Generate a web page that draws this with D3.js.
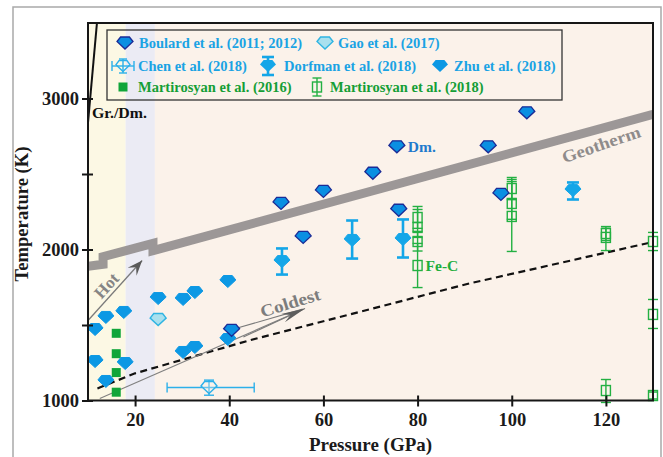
<!DOCTYPE html>
<html>
<head>
<meta charset="utf-8">
<script src="https://cdn.jsdelivr.net/npm/d3@7/dist/d3.min.js"></script>
<style>
  html, body { margin: 0; padding: 0; background: #fff; }
  svg { display: block; }
  text { font-family: "Liberation Serif", "Times New Roman", serif; font-weight: bold; }
</style>
</head>
<body>
<svg id="chart" width="663" height="457"></svg>
<script>
// ---- data (pressure in GPa, temperature in K) ----
const xTicks = [20, 40, 60, 80, 100, 120];
const yTicks = [1000, 1500, 2000, 2500, 3000];
const yTickLabels = [1000, 2000, 3000];

const boulard = [[40.5,1465],[51,2305],[55.7,2080],[60,2385],[70.5,2505],[75.6,2680],[76,2260],[95,2680],[97.7,2365],[103.2,2905]];
const gao = [[24.9,1536]];
const zhu = [[11.5,1470],[13.8,1550],[17.6,1583],[24.9,1675],[30.2,1669],[32.7,1715],[39.7,1788],
             [11.5,1258],[13.8,1126],[17.9,1245],[30.2,1318],[32.7,1351],[39.7,1404]];
const chen = [{p:35.7, t:1086, pLo:26.8, pHi:45.3, tLo:1035, tHi:1135}];
const dorfman = [{p:51.2,t:1920,lo:1834,hi:2007},{p:66.1,t:2060,lo:1940,hi:2192},
                 {p:76.9,t:2066,lo:1947,hi:2199},{p:113,t:2390,lo:2331,hi:2444}];
const mart2016 = [[16,1445],[16,1310],[16,1185],[16,1055]];
const mart2018 = [
  {p:80,t:2212,lo:2140,hi:2285},{p:80,t:2146,lo:2080,hi:2265},{p:80,t:2053,lo:1990,hi:2120},{p:80,t:1894,lo:1748,hi:2040},
  {p:100,t:2404,lo:2330,hi:2477},{p:100,t:2305,lo:2200,hi:2464},{p:100,t:2219,lo:1987,hi:2450},
  {p:120,t:2106,lo:2060,hi:2152},{p:120,t:2080,lo:1993,hi:2140},{p:120,t:1066,lo:987,hi:1139},
  {p:130,t:2053,lo:1993,hi:2113},{p:130,t:1570,lo:1477,hi:1669},{p:130,t:1033,lo:1010,hi:1056}
];

// phase regions and reference curves
const bands = [{p0:10,p1:18,fill:"#fcf8e4"},{p0:18,p1:24.2,fill:"#ebebf4"},{p0:24.2,p1:130,fill:"#fbf2ea"}];
const geotherm = [[10,1888],[13.2,1902],[13.2,1952],[23.8,2040],[23.8,1992],[130,2895]];
const graphiteDiamond = [[10,2840],[11.9,3500]];
const fecMelting = [[12,1080],[20,1180],[44.5,1400],[91,1775],[130,2050]];
const hotArrow = [[10,1530],[21.5,1927]];
const coldArrow = [[12.5,1013],[56.1,1609]];
const coldFan = [[[39.5,1460],[55.6,1605]],[[43,1420],[55.6,1603]]];

// ---- layout ----
const svg = d3.select("#chart");
const x = d3.scaleLinear().domain([10,130]).range([88,653]);
const y = d3.scaleLinear().domain([1000,3500]).range([400.5,23]);

// outer frame
svg.append("rect").attr("x",13).attr("y",7).attr("width",648).attr("height",462)
  .attr("fill","#fff").attr("stroke","#a9a9a9").attr("stroke-width",1.5);

svg.append("defs").append("clipPath").attr("id","plotClip")
  .append("rect").attr("x",x(10)).attr("y",y(3500)).attr("width",x(130)-x(10)).attr("height",y(1000)-y(3500));

// background bands
svg.append("g").selectAll("rect").data(bands).join("rect")
  .attr("x",d=>x(d.p0)).attr("width",d=>x(d.p1)-x(d.p0))
  .attr("y",y(3500)).attr("height",y(1000)-y(3500)).attr("fill",d=>d.fill);

const line = d3.line().x(d=>x(d[0])).y(d=>y(d[1]));
const plot = svg.append("g").attr("clip-path","url(#plotClip)");

// geotherm
plot.append("path").attr("d",line(geotherm)).attr("fill","none")
  .attr("stroke","#948f8f").attr("stroke-opacity",0.92).attr("stroke-width",9).attr("stroke-linejoin","miter");

// graphite / diamond boundary
plot.append("path").attr("d",line(graphiteDiamond)).attr("fill","none").attr("stroke","#111").attr("stroke-width",2);

// Fe-C melting (dashed)
plot.append("path").attr("d",line(fecMelting)).attr("fill","none").attr("stroke","#111")
  .attr("stroke-width",2.2).attr("stroke-dasharray","7,4.5");

// arrows
function arrowHead(seg, len, half, notch, color) {
  const x1 = x(seg[0][0]), y1 = y(seg[0][1]), x2 = x(seg[1][0]), y2 = y(seg[1][1]);
  const a = Math.atan2(y2-y1, x2-x1), c = Math.cos(a), s = Math.sin(a);
  const pt = (u,v)=>[x2 + u*c - v*s, y2 + u*s + v*c];
  const pts = [pt(0,0), pt(-len,-half), pt(-notch,0), pt(-len,half)];
  plot.append("path").attr("d","M"+pts.map(p=>p.join(",")).join("L")+"Z").attr("fill",color);
}
plot.append("path").attr("d",line(hotArrow)).attr("stroke","#7a7a7a").attr("stroke-width",1.3).attr("fill","none");
arrowHead(hotArrow, 15, 6, 9, "#5a5a5a");
plot.append("path").attr("d",line(coldArrow)).attr("stroke","#808080").attr("stroke-width",1.1).attr("fill","none");
coldFan.forEach(seg=>plot.append("path").attr("d",line(seg)).attr("stroke","#7a7a7a").attr("stroke-width",1.1).attr("fill","none"));
arrowHead(coldArrow, 24, 4.5, 16, "#5e5e5e");

// annotation texts
function rotText(px, py, angle, str, size, color, len) {
  const t = svg.append("text").attr("transform",`translate(${px},${py}) rotate(${angle})`)
    .attr("text-anchor","middle").attr("font-size",size).attr("fill",color).text(str);
  if (len) t.attr("textLength",len).attr("lengthAdjust","spacingAndGlyphs");
}
{
  const a = Math.atan2(y(hotArrow[1][1])-y(hotArrow[0][1]), x(hotArrow[1][0])-x(hotArrow[0][0]))*180/Math.PI;
  rotText(x(14.2)+3, y(1735), a, "Hot", 17, "#858585");
}
rotText(x(53.3), y(1610), -17, "Coldest", 17, "#7d7d7d", 62);
rotText(x(119.4), y(2660), -19, "Geotherm", 17, "#8f8b8b", 82);

svg.append("text").attr("x",92).attr("y",118).attr("font-size",14.5).attr("fill","#111")
  .attr("textLength",55).attr("lengthAdjust","spacingAndGlyphs").text("Gr./Dm.");

// ---- markers ----
function gem(w, h) {
  const hw = w/2, hh = h/2;
  return `M${-hw*0.55},${-hh}L${hw*0.55},${-hh}L${hw},${-hh*0.25}L0,${hh}L${-hw},${-hh*0.25}Z`;
}
const gemPath = gem(16, 12);

const marks = svg.append("g");

// Martirosyan 2018 (open squares with error bars)
const m18 = marks.append("g").attr("stroke","#23b042").attr("fill","none").attr("stroke-width",1.4);
mart2018.forEach(d=>{
  const cx = x(d.p);
  m18.append("line").attr("x1",cx).attr("x2",cx).attr("y1",y(d.lo)).attr("y2",y(d.hi));
  m18.append("line").attr("x1",cx-5).attr("x2",cx+5).attr("y1",y(d.lo)).attr("y2",y(d.lo));
  m18.append("line").attr("x1",cx-5).attr("x2",cx+5).attr("y1",y(d.hi)).attr("y2",y(d.hi));
  m18.append("rect").attr("x",cx-4.5).attr("y",y(d.t)-5).attr("width",9).attr("height",10);
});

// Martirosyan 2016 (filled squares)
marks.append("g").selectAll("rect").data(mart2016).join("rect")
  .attr("x",d=>x(d[0])-4.5).attr("y",d=>y(d[1])-4.5).attr("width",9).attr("height",9).attr("fill","#10a53a");

// Zhu 2018
marks.append("g").selectAll("path").data(zhu).join("path")
  .attr("d",gemPath).attr("transform",d=>`translate(${x(d[0])},${y(d[1])})`)
  .attr("fill","#0c98e4").attr("stroke","#0c98e4").attr("stroke-width",1);

// Gao 2017
marks.append("g").selectAll("path").data(gao).join("path")
  .attr("d",gemPath).attr("transform",d=>`translate(${x(d[0])},${y(d[1])})`)
  .attr("fill","#a9e0ee").attr("stroke","#2fb4e2").attr("stroke-width",1.4);

// Boulard 2011; 2012
marks.append("g").selectAll("path").data(boulard).join("path")
  .attr("d",gemPath).attr("transform",d=>`translate(${x(d[0])},${y(d[1])})`)
  .attr("fill","#0a8fe2").attr("stroke","#1b2b96").attr("stroke-width",1.3);

// Dorfman 2018 (filled gems with error bars)
const dg = marks.append("g").attr("stroke","#14a6e8").attr("stroke-width",2.6);
dorfman.forEach(d=>{
  const cx = x(d.p);
  dg.append("line").attr("x1",cx).attr("x2",cx).attr("y1",y(d.lo)).attr("y2",y(d.hi));
  dg.append("line").attr("x1",cx-6).attr("x2",cx+6).attr("y1",y(d.lo)).attr("y2",y(d.lo));
  dg.append("line").attr("x1",cx-6).attr("x2",cx+6).attr("y1",y(d.hi)).attr("y2",y(d.hi));
  dg.append("path").attr("d",gemPath).attr("transform",`translate(${cx},${y(d.t)})`)
    .attr("fill","#14a6e8").attr("stroke-width",1);
});

// Chen 2018 (open gem with both error bars)
const cg = marks.append("g").attr("stroke","#2cb0ea").attr("stroke-width",1.4).attr("fill","none");
chen.forEach(d=>{
  const cx = x(d.p), cy = y(d.t);
  cg.append("line").attr("x1",x(d.pLo)).attr("x2",x(d.pHi)).attr("y1",cy).attr("y2",cy);
  cg.append("line").attr("x1",x(d.pLo)).attr("x2",x(d.pLo)).attr("y1",cy-5).attr("y2",cy+5);
  cg.append("line").attr("x1",x(d.pHi)).attr("x2",x(d.pHi)).attr("y1",cy-5).attr("y2",cy+5);
  cg.append("line").attr("x1",cx).attr("x2",cx).attr("y1",y(d.tLo)).attr("y2",y(d.tHi));
  cg.append("line").attr("x1",cx-5).attr("x2",cx+5).attr("y1",y(d.tLo)).attr("y2",y(d.tLo));
  cg.append("line").attr("x1",cx-5).attr("x2",cx+5).attr("y1",y(d.tHi)).attr("y2",y(d.tHi));
  cg.append("path").attr("d",gemPath).attr("transform",`translate(${cx},${cy})`).attr("fill","#fbf2ea").attr("fill-opacity",0.3);
});

// point labels
svg.append("text").attr("x",x(75.6)+11).attr("y",y(2680)+5).attr("font-size",15.5).attr("fill","#1f7acd").text("Dm.");
svg.append("text").attr("x",x(80)+8).attr("y",y(1894)+5).attr("font-size",15.5).attr("fill","#1fae3c").text("Fe-C");

// ---- axes ----
svg.append("rect").attr("x",x(10)).attr("y",y(3500)).attr("width",x(130)-x(10)).attr("height",y(1000)-y(3500))
  .attr("fill","none").attr("stroke","#161616").attr("stroke-width",2);

const xAxis = svg.append("g").attr("transform",`translate(0,${y(1000)})`)
  .call(d3.axisBottom(x).tickValues(xTicks).tickSize(0).tickPadding(12));
xAxis.select(".domain").remove();
xAxis.selectAll(".tick").append("line").attr("y1",-5).attr("y2",6).attr("stroke","#161616").attr("stroke-width",2);
xAxis.selectAll("text").attr("font-size",18.5).attr("fill","#1a1a1a")
  .attr("font-family","Liberation Serif, serif").attr("font-weight","bold");

const yAxis = svg.append("g").attr("transform",`translate(${x(10)},0)`)
  .call(d3.axisLeft(y).tickValues(yTicks).tickSize(0).tickPadding(9)
    .tickFormat(d=>yTickLabels.includes(d)?d:""));
yAxis.select(".domain").remove();
yAxis.selectAll(".tick").append("line").attr("x1",-6).attr("x2",5).attr("stroke","#161616").attr("stroke-width",2);
yAxis.selectAll("text").attr("font-size",18.5).attr("fill","#1a1a1a").attr("dy","0.34em")
  .attr("font-family","Liberation Serif, serif").attr("font-weight","bold");

svg.append("text").attr("x",(x(10)+x(130))/2).attr("y",451).attr("text-anchor","middle")
  .attr("font-size",19).attr("fill","#1a1a1a")
  .attr("textLength",123).attr("lengthAdjust","spacingAndGlyphs").text("Pressure (GPa)");
svg.append("text").attr("transform",`translate(28,214) rotate(-90)`).attr("text-anchor","middle")
  .attr("font-size",18).attr("fill","#1a1a1a")
  .attr("textLength",135).attr("lengthAdjust","spacingAndGlyphs").text("Temperature (K)");

// ---- legend ----
const legendItems = [
  {label:"Boulard et al. (2011; 2012)", kind:"boulard", ix:125, tx:139, row:0},
  {label:"Gao et al. (2017)", kind:"gao", ix:325, tx:338, row:0},
  {label:"Chen et al. (2018)", kind:"chen", ix:123, tx:138, row:1},
  {label:"Dorfman et al. (2018)", kind:"dorfman", ix:268, tx:284, row:1},
  {label:"Zhu et al. (2018)", kind:"zhu", ix:440, tx:454, row:1},
  {label:"Martirosyan et al. (2016)", kind:"m16", ix:123, tx:138, row:2},
  {label:"Martirosyan et al. (2018)", kind:"m18", ix:317, tx:330, row:2}
];
const legend = svg.append("g");
legend.append("rect").attr("x",107).attr("y",30).attr("width",455).attr("height",70)
  .attr("fill","none").attr("stroke","#333").attr("stroke-width",1.3);
const rowY = [43, 66, 87];
legendItems.forEach(it=>{
  const cy = rowY[it.row];
  const g = legend.append("g").attr("transform",`translate(${it.ix},${cy})`);
  const green = it.kind==="m16"||it.kind==="m18";
  if (it.kind==="boulard") g.append("path").attr("d",gemPath).attr("fill","#0a8fe2").attr("stroke","#1b2b96").attr("stroke-width",1.3);
  if (it.kind==="gao") g.append("path").attr("d",gemPath).attr("fill","#a9e0ee").attr("stroke","#2fb4e2").attr("stroke-width",1.4);
  if (it.kind==="zhu") g.append("path").attr("d",gemPath).attr("fill","#0c98e4");
  if (it.kind==="dorfman") {
    g.append("line").attr("y1",-9).attr("y2",9).attr("stroke","#14a6e8").attr("stroke-width",2.6);
    g.append("line").attr("x1",-6).attr("x2",6).attr("y1",-9).attr("y2",-9).attr("stroke","#14a6e8").attr("stroke-width",2.6);
    g.append("line").attr("x1",-6).attr("x2",6).attr("y1",9).attr("y2",9).attr("stroke","#14a6e8").attr("stroke-width",2.6);
    g.append("path").attr("d",gemPath).attr("fill","#14a6e8");
  }
  if (it.kind==="chen") {
    const s = g.append("g").attr("stroke","#2cb0ea").attr("stroke-width",1.4).attr("fill","none");
    s.append("line").attr("x1",-11).attr("x2",11);
    s.append("line").attr("x1",-11).attr("x2",-11).attr("y1",-5).attr("y2",5);
    s.append("line").attr("x1",11).attr("x2",11).attr("y1",-5).attr("y2",5);
    s.append("line").attr("y1",-7).attr("y2",7);
    s.append("line").attr("x1",-4).attr("x2",4).attr("y1",-7).attr("y2",-7);
    s.append("line").attr("x1",-4).attr("x2",4).attr("y1",7).attr("y2",7);
    s.append("path").attr("d",gem(14,11));
  }
  if (it.kind==="m16") g.append("rect").attr("x",-4.5).attr("y",-4.5).attr("width",9).attr("height",9).attr("fill","#10a53a");
  if (it.kind==="m18") {
    const s = g.append("g").attr("stroke","#23b042").attr("stroke-width",1.4).attr("fill","none");
    s.append("line").attr("y1",-9).attr("y2",9);
    s.append("line").attr("x1",-4.5).attr("x2",4.5).attr("y1",-9).attr("y2",-9);
    s.append("line").attr("x1",-4.5).attr("x2",4.5).attr("y1",9).attr("y2",9);
    s.append("rect").attr("x",-4.5).attr("y",-5).attr("width",9).attr("height",10);
  }
  legend.append("text").attr("x",it.tx).attr("y",cy+5).attr("font-size",14.5)
    .attr("fill",green?"#159e36":"#1aa3e4").text(it.label);
});
</script>
</body>
</html>
